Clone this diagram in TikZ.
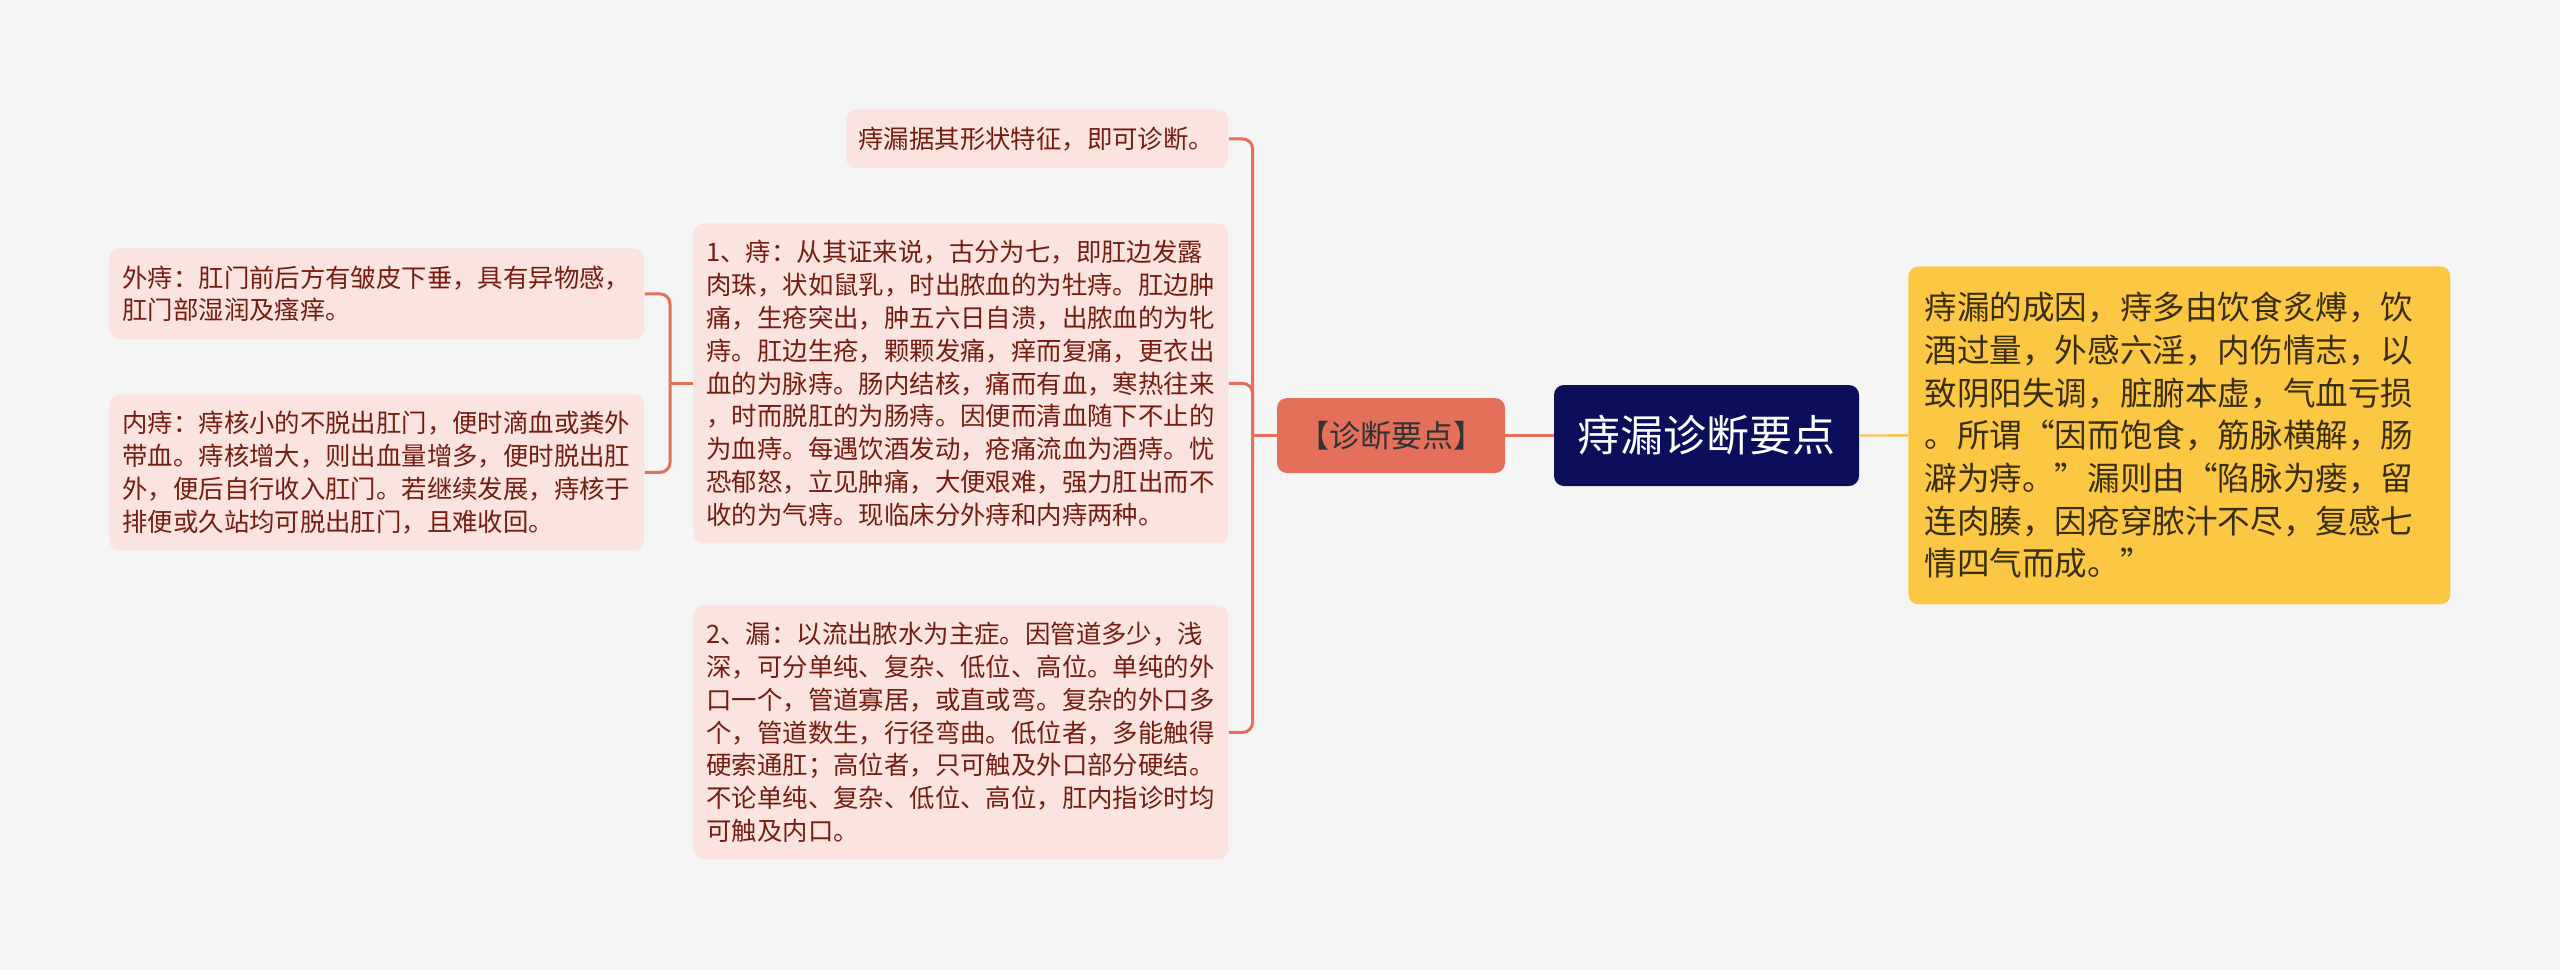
\documentclass[tikz,border=0pt]{standalone}
\usepackage{fontspec}
\setmainfont{Noto Sans CJK SC}
\usetikzlibrary{calc}
\usetikzlibrary{positioning}

\definecolor{bgcol}{HTML}{F5F5F5}
\definecolor{leaffill}{HTML}{FBE4DF}
\definecolor{leaftext}{HTML}{761D12}
\definecolor{salmon}{HTML}{E4705B}
\definecolor{navy}{HTML}{0B0E5A}
\definecolor{causefill}{HTML}{FCC843}
\definecolor{causetext}{HTML}{3A2E10}
\definecolor{causeline}{HTML}{F6C64C}

\tikzset{
  leaf/.style={fill=leaffill, text=leaftext, rounded corners=5pt, align=left,
    anchor=north west, inner xsep=6.5pt, inner ysep=0pt, text width=254.5pt,
    font=\fontsize{12.7pt}{16.4pt}\selectfont},
  branch/.style={draw=salmon, line width=1.5pt},
}

\begin{document}
\begin{tikzpicture}[x=0.5pt, y=-0.5pt]
          \fill [bgcol] (0, 0) rectangle (2560, 970);
          % centre
          \node [fill=navy, text=white, rounded corners=5pt, minimum width=152.5pt, minimum height=50.5pt,
            font=\fontsize{21.5pt}{24pt}\selectfont] (root) at (1706.5, 435.5) {痔漏诊断要点};
          \node [fill=salmon, text=black!80, rounded corners=5pt, minimum width=114pt, minimum height=37.5pt,
            font=\fontsize{15.5pt}{18pt}\selectfont] (key) at (1391, 435.5) {【诊断要点】};
          \node [fill=causefill, text=causetext, rounded corners=5pt, align=left, anchor=north west,
            inner xsep=8pt, inner ysep=0pt, text width=255pt, minimum height=169pt,
            font=\fontsize{16.3pt}{21.35pt}\selectfont] (cause) at (1908, 266)
            {痔漏的成因，痔多由饮食炙煿，饮\\
             酒过量，外感六淫，内伤情志，以\\
             致阴阳失调，脏腑本虚，气血亏损\\
             。所谓“因而饱食，筋脉横解，肠\\
             澼为痔。”漏则由“陷脉为瘘，留\\
             连肉腠，因疮穿脓汁不尽，复感七\\
             情四气而成。”};
          % branches of the key
          \node [leaf, inner xsep=6pt, text width=179pt, minimum height=29.5pt] (tip) at (846, 109)
            {痔漏据其形状特征，即可诊断。};
          \node [leaf, minimum height=160pt] (zhi) at (693, 223)
            {1、痔：从其证来说，古分为七，即肛边发露\\
             肉珠，状如鼠乳，时出脓血的为牡痔。肛边肿\\
             痛，生疮突出，肿五六日自溃，出脓血的为牝\\
             痔。肛边生疮，颗颗发痛，痒而复痛，更衣出\\
             血的为脉痔。肠内结核，痛而有血，寒热往来\\
             ，时而脱肛的为肠痔。因便而清血随下不止的\\
             为血痔。每遇饮酒发动，疮痛流血为酒痔。忧\\
             恐郁怒，立见肿痛，大便艰难，强力肛出而不\\
             收的为气痔。现临床分外痔和内痔两种。};
          \node [leaf, minimum height=127pt] (lou) at (693, 605)
            {2、漏：以流出脓水为主症。因管道多少，浅\\
             深，可分单纯、复杂、低位、高位。单纯的外\\
             口一个，管道寡居，或直或弯。复杂的外口多\\
             个，管道数生，行径弯曲。低位者，多能触得\\
             硬索通肛；高位者，只可触及外口部分硬结。\\
             不论单纯、复杂、低位、高位，肛内指诊时均\\
             可触及内口。};
          % branches of zhi
          \node [leaf, minimum height=45.5pt] (wai) at (109, 248)
            {外痔：肛门前后方有皱皮下垂，具有异物感，\\
             肛门部湿润及瘙痒。};
          \node [leaf, minimum height=78pt] (nei) at (109, 394)
            {内痔：痔核小的不脱出肛门，便时滴血或粪外\\
             带血。痔核增大，则出血量增多，便时脱出肛\\
             外，便后自行收入肛门。若继续发展，痔核于\\
             排便或久站均可脱出肛门，且难收回。};

          \draw [branch] (root.west) -- (key.east);
          \draw [draw=causeline, line width=1.2pt] (root.east) -- (cause.west);
          \coordinate (keyfork) at ($(key.west)+(-12pt, 0)$);
          \draw [branch] (key.west) -- (keyfork);
          \foreach \x in {tip, zhi, lou}
            \draw [branch, rounded corners=5pt] (keyfork) |- (\x.east);
          \coordinate (zhifork) at ($(zhi.west)+(-11.5pt, 0)$);
          \draw [branch] (zhi.west) -- (zhifork);
          \foreach \x in {wai, nei}
            \draw [branch, rounded corners=5pt] (zhifork) |- (\x.east);
        \end{tikzpicture}
\end{document}
